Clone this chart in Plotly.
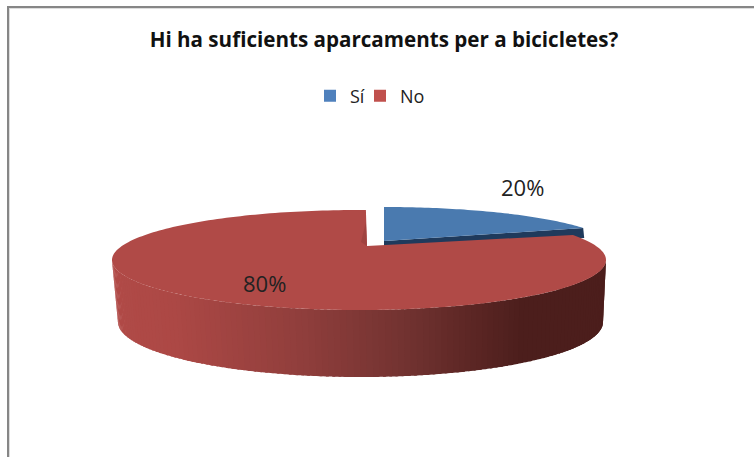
import numpy as np
import plotly.graph_objects as go

# --- data ---
categories = ["Sí", "No"]
values = [20, 80]
title_text = "Hi ha suficients aparcaments per a bicicletes?"

# --- style ---
W, H = 754, 457
LEGEND_COLORS = ["#4f81bd", "#c0504d"]
TOP_COLORS = ["#4a7aaf", "#b04a47"]
BLUE_SIDE = "#1f3a5c"
FONT = "Open Sans"

# screen geometry of the tilted pie (pixels)
RED_TOP = dict(cx=359, cy=260, a=247, b=50)
RED_BOT = dict(cx=360.5, cy=322, a=242.5, b=55)
BLUE_TOP = dict(cx=384, cy=249, a=230, b=42)
RED_APEX = (367, 246)
BLUE_APEX = (384, 241)
BLUE_DEPTH = 10
PERSPECTIVE_DEG = 20.4
LEGEND_LEFT = [310, 360]


def screen_angle(frac):
    """Angle on the ellipse (clockwise from 12 o'clock) for a share of the pie."""
    phi = 2 * np.pi * frac
    return phi - np.radians(PERSPECTIVE_DEG) * np.sin(2 * phi)


def ell(e, t):
    return e["cx"] + e["a"] * np.sin(t), e["cy"] - e["b"] * np.cos(t)


total = sum(values)
split = values[0] / total
t_split = screen_angle(split)
t_end = 2 * np.pi + np.radians(1.6)

fig = go.Figure()

# blue side band (mostly hidden by the red slice)
bx, by = ell(BLUE_TOP, t_split)
fig.add_trace(go.Scatter(
    x=[BLUE_APEX[0], bx, bx + 1, BLUE_APEX[0]],
    y=[BLUE_APEX[1], by, by + BLUE_DEPTH, BLUE_APEX[1] + BLUE_DEPTH],
    fill="toself", fillcolor=BLUE_SIDE, mode="none", showlegend=False, hoverinfo="skip"))

# blue top face
ts = np.linspace(0, t_split, 60)
x, y = ell(BLUE_TOP, ts)
fig.add_trace(go.Scatter(
    x=np.r_[BLUE_APEX[0], x, BLUE_APEX[0]], y=np.r_[BLUE_APEX[1], y, BLUE_APEX[1]],
    fill="toself", fillcolor=TOP_COLORS[0], mode="none", showlegend=False, hoverinfo="text",
    text=f"{categories[0]}: {values[0]}%"))

# dark backing under the right end of the side wall, hides strip seams at the rim
seg = np.linspace(np.pi / 2, np.radians(125), 30)
xt, yt = ell(RED_TOP, seg)
xb, yb = ell(RED_BOT, seg)
fig.add_trace(go.Scatter(
    x=np.r_[xt, xb[::-1]], y=np.r_[yt, yb[::-1]],
    fill="toself", fillcolor="rgb(76,30,28)", mode="none", showlegend=False, hoverinfo="skip"))

# red side wall: gradient strips along the front half of the rim
stops_x = [118, 175, 300, 400, 520, 606]
stops_rgb = np.array([[176, 74, 71], [172, 72, 69], [144, 62, 60], [115, 51, 49], [76, 30, 28], [76, 30, 28]], float)
edges = np.linspace(np.pi / 2, 3 * np.pi / 2, 121)
for t0, t1 in zip(edges[:-1], edges[1:]):
    seg = np.linspace(t0, min(t1 + 0.012, 3 * np.pi / 2), 4)
    xt, yt = ell(RED_TOP, seg)
    xb, yb = ell(RED_BOT, seg)
    xm = (xt.mean() + xb.mean()) / 2
    rgb = [np.interp(xm, stops_x, stops_rgb[:, i]) for i in range(3)]
    col = "rgb({:.0f},{:.0f},{:.0f})".format(*rgb)
    fig.add_trace(go.Scatter(
        x=np.r_[xt, xb[::-1]], y=np.r_[yt, yb[::-1]],
        fill="toself", fillcolor=col, mode="none",
        showlegend=False, hoverinfo="skip"))

# red top face
ts = np.linspace(t_split, t_end, 240)
x, y = ell(RED_TOP, ts)
fig.add_trace(go.Scatter(
    x=np.r_[RED_APEX[0], x, RED_APEX[0]], y=np.r_[RED_APEX[1], y, RED_APEX[1]],
    fill="toself", fillcolor=TOP_COLORS[1], mode="none", showlegend=False, hoverinfo="text",
    text=f"{categories[1]}: {values[1]}%"))

# faint inner wall of the red slice beside the cut
xe, ye = ell(RED_TOP, t_end)
fig.add_trace(go.Scatter(
    x=[RED_APEX[0], xe, RED_APEX[0] - 6], y=[RED_APEX[1], ye + 12, RED_APEX[1] - 4],
    fill="toself", fillcolor="#a04340", mode="none", showlegend=False, hoverinfo="skip"))

# legend entries, each in its own legend so the spacing can be tightened
for i, (name, col) in enumerate(zip(categories, LEGEND_COLORS)):
    fig.add_trace(go.Scatter(
        x=[None], y=[None], name=name, mode="markers", showlegend=True,
        legend="legend" if i == 0 else "legend2",
        marker=dict(symbol="square", size=12, color=col)))


def legend_box(left):
    return dict(x=left / W, xanchor="left", y=1 - 96 / H, yanchor="middle",
                font=dict(family=FONT, size=18, color="#222222"), itemwidth=30,
                bgcolor="rgba(0,0,0,0)")


fig.update_layout(
    width=W, height=H,
    margin=dict(l=0, r=0, t=0, b=0),
    paper_bgcolor="white", plot_bgcolor="white",
    font=dict(family=FONT, size=18, color="#222222"),
    title=dict(text=f"<b>{title_text}</b>", x=384 / W, xanchor="center", y=1 - 40 / H, yanchor="middle",
               font=dict(family=FONT, size=20.6, color="#111111")),
    xaxis=dict(range=[0, W], visible=False, fixedrange=True, domain=[0, 1]),
    yaxis=dict(range=[H, 0], visible=False, fixedrange=True, domain=[0, 1]),
    legend=legend_box(LEGEND_LEFT[0]),
    legend2=legend_box(LEGEND_LEFT[1]),
    shapes=[
        dict(type="line", xref="paper", yref="paper", x0=9.5 / W, x1=9.5 / W, y0=0, y1=1 - 8 / H,
             line=dict(color="#dddddd", width=1)),
        dict(type="line", xref="paper", yref="paper", x0=9 / W, x1=1, y0=1 - 8.5 / H, y1=1 - 8.5 / H,
             line=dict(color="#dddddd", width=1)),
        dict(type="line", xref="paper", yref="paper", x0=8 / W, x1=8 / W, y0=0, y1=1 - 6 / H,
             line=dict(color="#868686", width=2)),
        dict(type="line", xref="paper", yref="paper", x0=7 / W, x1=1, y0=1 - 7 / H, y1=1 - 7 / H,
             line=dict(color="#868686", width=2)),
    ],
    annotations=[
        dict(text=f"{values[0]}%", xref="paper", yref="paper", x=522 / W, y=1 - 187 / H,
             xanchor="center", yanchor="middle",
             showarrow=False, font=dict(family=FONT, size=22, color="#222222")),
        dict(text=f"{values[1]}%", xref="paper", yref="paper", x=264 / W, y=1 - 283 / H,
             xanchor="center", yanchor="middle",
             showarrow=False, font=dict(family=FONT, size=22, color="#222222")),
    ],
)

fig.write_html("out.html", post_script="document.body.style.margin='0';",
               config=dict(displayModeBar=False))
